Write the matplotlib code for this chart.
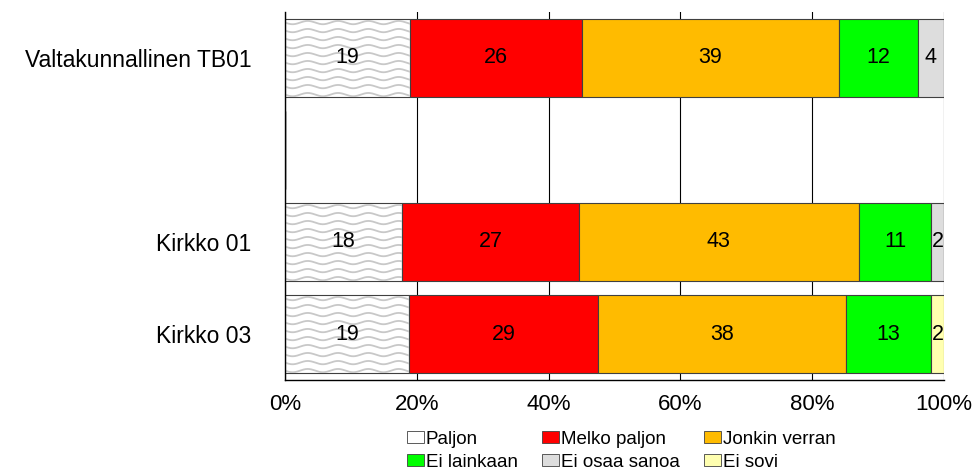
import numpy as np
import matplotlib
matplotlib.use("Agg")
import matplotlib.pyplot as plt
from matplotlib.patches import Patch

plt.rcParams['font.family'] = ['Liberation Sans', 'DejaVu Sans']

# Survey answers (percent), one list per answer category
groups = ['Valtakunnallinen TB01', '', 'Kirkko 01', 'Kirkko 03']
answers = ['Paljon', 'Melko paljon', 'Jonkin verran', 'Ei lainkaan', 'Ei osaa sanoa', 'Ei sovi']
paljon = [19, 0, 18, 19]
melko_paljon = [26, 0, 27, 29]
jonkin_verran = [39, 0, 43, 38]
ei_lainkaan = [12, 0, 11, 13]
ei_osaa_sanoa = [4, 0, 2, 0]
ei_sovi = [0, 0, 0, 2]

series = [paljon, melko_paljon, jonkin_verran, ei_lainkaan, ei_osaa_sanoa, ei_sovi]
colors = ['white', '#ff0000', '#ffbb00', '#00ff00', '#dddddd', '#ffffb0']

fig = plt.figure(figsize=(9.77, 4.72), dpi=100)
ax = fig.add_axes([285 / 977, 92 / 472, 659 / 977, 368 / 472])

data = np.array(series, dtype=float)
totals = data.sum(axis=0)
totals[totals == 0] = 1
shares = data / totals * 100

ypos = np.arange(len(groups))
left = np.zeros(len(groups))
bar_h = 0.85
for i, (name, col) in enumerate(zip(answers, colors)):
    bars = ax.barh(ypos, shares[i], left=left, height=bar_h, color=col,
                   edgecolor='#404040', linewidth=0.8, zorder=2)
    for j, b in enumerate(bars):
        v = data[i, j]
        if v <= 0:
            continue
        if i == 0:
            # wavy grey fill for the "Paljon" segments
            x0, y0 = b.get_x(), b.get_y()
            w, h = b.get_width(), b.get_height()
            xs = np.linspace(x0, x0 + w, 300)
            for yc in np.arange(y0 + 0.04, y0 + h, 0.087):
                ln, = ax.plot(xs, yc + 0.018 * np.sin(2 * np.pi * (xs - x0) / 4.6),
                              color='#c8c8c8', lw=1.3, zorder=2.5)
                ln.set_clip_path(b)
        ax.text(left[j] + shares[i, j] / 2, ypos[j], f'{int(v)}',
                ha='center', va='center', fontsize=15.5, zorder=3)
    left += shares[i]

ax.set_xlim(0, 100)
ax.set_ylim(len(groups) - 0.5, -0.5)
ax.set_xticks(np.arange(0, 101, 20))
ax.set_xticklabels([f'{t}%' for t in range(0, 101, 20)], fontsize=16)
ax.set_yticks(ypos)
ax.set_yticklabels(groups, fontsize=16.5)
ax.tick_params(axis='x', length=0, pad=10)
ax.tick_params(axis='y', length=0, pad=24)
ax.grid(axis='x', color='black', linewidth=0.8)
ax.set_axisbelow(True)
for s in ['top', 'right']:
    ax.spines[s].set_visible(False)
for s in ['left', 'bottom']:
    ax.spines[s].set_linewidth(1.0)

# legend handles in column order
handles = [Patch(facecolor=c, edgecolor='#404040', linewidth=0.6) for c in colors]
order = [0, 3, 1, 4, 2, 5]
fig.legend([handles[k] for k in order], [answers[k] for k in order],
           loc='upper left', bbox_to_anchor=(407 / 977, 41 / 472), ncol=3,
           frameon=False, fontsize=13.5, handlelength=0.9, handleheight=0.6,
           handletextpad=0.1, columnspacing=1.3, labelspacing=0.3,
           borderpad=0, borderaxespad=0)

fig.savefig('out.png', dpi=100)
